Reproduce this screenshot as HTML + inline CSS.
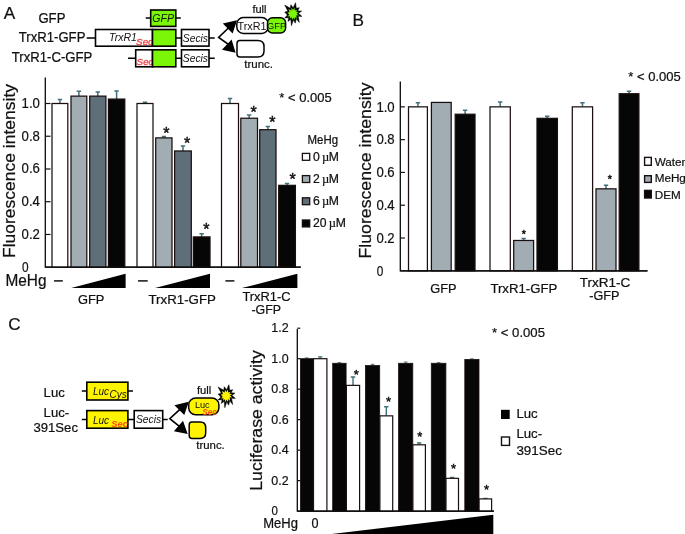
<!DOCTYPE html>
<html><head><meta charset="utf-8"><title>Figure</title>
<style>
html,body{margin:0;padding:0;background:#fff;}
body{width:685px;height:534px;overflow:hidden;}
svg{display:block;}
svg text{font-family:"Liberation Sans",sans-serif;}
svg text:not([stroke]){stroke:#111;stroke-width:0.22px;}
</style></head><body>
<svg width="685" height="534" viewBox="0 0 685 534">
<rect width="685" height="534" fill="#fff"/>
<text x="3.80" y="19.30" font-size="17.2" text-anchor="start"  fill="#111">A</text>
<text x="0.00" y="0.00" font-size="13.1" text-anchor="start" textLength="27.0" lengthAdjust="spacingAndGlyphs"  transform="translate(38.40 22.60) scale(1 1.07)" fill="#111">GFP</text>
<text x="0.00" y="0.00" font-size="13.1" text-anchor="start" textLength="66.6" lengthAdjust="spacingAndGlyphs"  transform="translate(18.80 42.30) scale(1 1.08)" fill="#111">TrxR1-GFP</text>
<text x="0.00" y="0.00" font-size="13.1" text-anchor="start" textLength="80.6" lengthAdjust="spacingAndGlyphs"  transform="translate(11.80 62.00) scale(1 1.08)" fill="#111">TrxR1-C-GFP</text>
<path d="M145.7 18H150.7M175.8 18H180.8M86.7 38H95.5M209 38H214.7M128 58.3H135.7M175.8 58.3H181.5M209 58.3H214.7M175.8 38H181.5" stroke="#000" stroke-width="1.5" fill="none"/>
<rect x="150.7" y="10" width="25.1" height="16.4" fill="#7cf608" stroke="#000" stroke-width="1.6"/>
<text x="163.20" y="22.20" font-size="10.6" text-anchor="middle" font-style="italic" stroke="none" fill="#111">GFP</text>
<rect x="95.5" y="29.5" width="57" height="16.7" fill="#fff" stroke="#000" stroke-width="1.6"/>
<text x="109.00" y="41.00" font-size="10.5" text-anchor="start" font-style="italic" stroke="none" fill="#111">TrxR1</text>
<text x="136.10" y="45.00" font-size="9.8" text-anchor="start" font-style="italic" fill="#f0454a" stroke="#f0454a" stroke-width="0.35">Sec</text>
<rect x="152.5" y="29.5" width="23.3" height="16.7" fill="#7cf608" stroke="#000" stroke-width="1.6"/>
<rect x="181.5" y="29.5" width="27.5" height="16.6" fill="#fff" stroke="#000" stroke-width="1.6"/>
<text x="195.40" y="41.80" font-size="10.3" text-anchor="middle" font-style="italic" stroke="none" fill="#111">Secis</text>
<rect x="135.7" y="49.8" width="16.8" height="17" fill="#fff" stroke="#000" stroke-width="1.6"/>
<text x="136.60" y="64.70" font-size="9.8" text-anchor="start" font-style="italic" fill="#f0454a" stroke="#f0454a" stroke-width="0.35">Sec</text>
<rect x="152.5" y="49.8" width="23.3" height="17" fill="#7cf608" stroke="#000" stroke-width="1.6"/>
<rect x="181.5" y="49.8" width="27.5" height="17" fill="#fff" stroke="#000" stroke-width="1.6"/>
<text x="195.40" y="62.30" font-size="10.3" text-anchor="middle" font-style="italic" stroke="none" fill="#111">Secis</text>
<path d="M230 26.5L218.6 37.3L230 45.5" stroke="#000" stroke-width="1.6" fill="none"/>
<path d="M222.8 23.5L237 20.3L232.6 33.6Z M221.9 49.7L231.6 39.6L235.6 52.8Z" fill="#000"/>
<rect x="236.8" y="17.6" width="31.5" height="15.8" rx="6.5" fill="#fff" stroke="#000" stroke-width="1.5"/>
<rect x="267.5" y="17.8" width="18.1" height="15.2" rx="5" fill="#7cf608" stroke="#000" stroke-width="1.5"/>
<text x="252.00" y="29.80" font-size="10.8" text-anchor="middle" stroke="none" fill="#111">TrxR1</text>
<text x="276.60" y="29.30" font-size="9.3" text-anchor="middle" stroke="none" fill="#111">GFP</text>
<text x="252.40" y="13.00" font-size="11" text-anchor="start"  fill="#111">full</text>
<path d="M239.8 40.6H257.8Q264 40.6 264 46.6V50.9Q264 56.9 257.8 56.9H239.8Q237 56.9 237 53.9V43.6Q237 40.6 239.8 40.6Z" fill="#fff" stroke="#000" stroke-width="1.5"/>
<text x="244.30" y="67.80" font-size="11.5" text-anchor="start"  fill="#111">trunc.</text>
<polygon points="295.53,2.71 296.32,8.28 299.32,7.67 297.63,10.65 301.66,11.17 298.42,13.27 301.95,16.43 298.16,16.16 299.32,22.56 296.32,18.79 295.24,23.14 293.43,19.84 291.44,25.77 290.80,19.32 287.94,21.39 288.70,17.74 284.72,17.89 287.38,15.11 284.72,12.05 287.91,11.17 284.72,5.04 290.27,8.28 290.86,4.75 293.16,7.76" fill="#000" stroke="#000" stroke-width="0.5" stroke-linejoin="round"/>
<polygon points="294.41,7.44 294.87,10.62 297.14,9.75 296.01,11.73 298.68,12.07 296.58,13.45 298.87,15.53 296.31,15.33 296.77,19.07 295.01,16.88 294.44,19.97 293.22,17.52 292.11,20.29 291.57,17.29 289.62,18.81 290.17,16.36 287.50,16.50 289.26,14.67 287.50,12.64 289.59,12.06 288.44,9.02 291.29,10.43 291.55,7.83 293.06,10.07" fill="#7cf608"/>
<path d="M45.3 77.5V267.2H300.8" stroke="#0a0a0a" stroke-width="1.3" fill="none"/>
<path d="M45.3 103.50H50.5" stroke="#111" stroke-width="1.2"/>
<text x="21.60" y="107.90" font-size="14.4" text-anchor="start" textLength="18.3" lengthAdjust="spacingAndGlyphs"  fill="#111">1.0</text>
<path d="M45.3 136.24H50.5" stroke="#111" stroke-width="1.2"/>
<text x="21.60" y="140.64" font-size="14.4" text-anchor="start" textLength="18.3" lengthAdjust="spacingAndGlyphs"  fill="#111">0.8</text>
<path d="M45.3 168.98H50.5" stroke="#111" stroke-width="1.2"/>
<text x="21.60" y="173.38" font-size="14.4" text-anchor="start" textLength="18.3" lengthAdjust="spacingAndGlyphs"  fill="#111">0.6</text>
<path d="M45.3 201.72H50.5" stroke="#111" stroke-width="1.2"/>
<text x="21.60" y="206.12" font-size="14.4" text-anchor="start" textLength="18.3" lengthAdjust="spacingAndGlyphs"  fill="#111">0.4</text>
<path d="M45.3 234.46H50.5" stroke="#111" stroke-width="1.2"/>
<text x="21.60" y="238.86" font-size="14.4" text-anchor="start" textLength="18.3" lengthAdjust="spacingAndGlyphs"  fill="#111">0.2</text>
<text x="21.90" y="271.60" font-size="14.4" text-anchor="start" textLength="6.6" lengthAdjust="spacingAndGlyphs"  fill="#111">0</text>
<text fill="#111" transform="translate(14.9 171) rotate(-90)" font-size="16.2" text-anchor="middle" textLength="174" lengthAdjust="spacingAndGlyphs">Fluorescence intensity</text>
<path d="M59.90 103.50V99.41M57.70 99.41H62.10" stroke="#44707a" stroke-width="1.5" fill="none"/>
<rect x="52.00" y="103.50" width="15.80" height="163.70" fill="#ffffff" stroke="#1a0f0f" stroke-width="1.25"/>
<path d="M78.90 96.13V91.22M76.70 91.22H81.10" stroke="#44707a" stroke-width="1.5" fill="none"/>
<rect x="71.00" y="96.13" width="15.80" height="171.07" fill="#a1adb3" stroke="#1a0f0f" stroke-width="1.25"/>
<path d="M97.80 96.13V92.04M95.60 92.04H100.00" stroke="#44707a" stroke-width="1.5" fill="none"/>
<rect x="89.70" y="96.13" width="16.20" height="171.07" fill="#5f6f7a" stroke="#1a0f0f" stroke-width="1.25"/>
<path d="M116.60 99.08V90.90M114.40 90.90H118.80" stroke="#44707a" stroke-width="1.5" fill="none"/>
<rect x="108.40" y="99.08" width="16.40" height="168.12" fill="#060606" stroke="#1a0f0f" stroke-width="1.25"/>
<path d="M145.00 103.50V102.19M142.80 102.19H147.20" stroke="#44707a" stroke-width="1.5" fill="none"/>
<rect x="137.00" y="103.50" width="16.00" height="163.70" fill="#ffffff" stroke="#1a0f0f" stroke-width="1.25"/>
<path d="M163.85 137.88V136.57M161.65 136.57H166.05" stroke="#44707a" stroke-width="1.5" fill="none"/>
<rect x="155.70" y="137.88" width="16.30" height="129.32" fill="#a1adb3" stroke="#1a0f0f" stroke-width="1.25"/>
<path d="M182.95 150.97V146.06M180.75 146.06H185.15" stroke="#44707a" stroke-width="1.5" fill="none"/>
<rect x="174.60" y="150.97" width="16.70" height="116.23" fill="#5f6f7a" stroke="#1a0f0f" stroke-width="1.25"/>
<path d="M201.65 236.92V233.64M199.45 233.64H203.85" stroke="#44707a" stroke-width="1.5" fill="none"/>
<rect x="193.30" y="236.92" width="16.70" height="30.28" fill="#060606" stroke="#1a0f0f" stroke-width="1.25"/>
<path d="M230.00 103.50V98.59M227.80 98.59H232.20" stroke="#44707a" stroke-width="1.5" fill="none"/>
<rect x="221.50" y="103.50" width="17.00" height="163.70" fill="#ffffff" stroke="#1a0f0f" stroke-width="1.25"/>
<path d="M249.15 118.23V114.96M246.95 114.96H251.35" stroke="#44707a" stroke-width="1.5" fill="none"/>
<rect x="240.80" y="118.23" width="16.70" height="148.97" fill="#a1adb3" stroke="#1a0f0f" stroke-width="1.25"/>
<path d="M267.85 129.69V126.42M265.65 126.42H270.05" stroke="#44707a" stroke-width="1.5" fill="none"/>
<rect x="259.70" y="129.69" width="16.30" height="137.51" fill="#5f6f7a" stroke="#1a0f0f" stroke-width="1.25"/>
<path d="M287.05 185.35V183.39M284.85 183.39H289.25" stroke="#44707a" stroke-width="1.5" fill="none"/>
<rect x="278.70" y="185.35" width="16.70" height="81.85" fill="#060606" stroke="#1a0f0f" stroke-width="1.25"/>
<path d="M45.3 267.2H300.8" stroke="#0a0a0a" stroke-width="1.3" fill="none"/>
<text x="166.30" y="139.30" font-size="16" text-anchor="middle" stroke="#111" stroke-width="0.45" fill="#111">*</text>
<text x="187.20" y="148.50" font-size="16" text-anchor="middle" stroke="#111" stroke-width="0.45" fill="#111">*</text>
<text x="206.40" y="234.80" font-size="16" text-anchor="middle" stroke="#111" stroke-width="0.45" fill="#111">*</text>
<text x="253.60" y="117.70" font-size="16" text-anchor="middle" stroke="#111" stroke-width="0.45" fill="#111">*</text>
<text x="272.30" y="127.80" font-size="16" text-anchor="middle" stroke="#111" stroke-width="0.45" fill="#111">*</text>
<text x="292.50" y="185.10" font-size="16" text-anchor="middle" stroke="#111" stroke-width="0.45" fill="#111">*</text>
<text x="279.30" y="102.30" font-size="12.6" text-anchor="start" textLength="52.4" lengthAdjust="spacingAndGlyphs"  fill="#111">* &lt; 0.005</text>
<text x="307.60" y="143.60" font-size="12.4" text-anchor="start" textLength="30.5" lengthAdjust="spacingAndGlyphs"  fill="#111">MeHg</text>
<rect x="302.4" y="153.40" width="7.3" height="6.9" fill="#ffffff" stroke="#1a0f0f" stroke-width="1.3"/>
<text fill="#111" x="313.1" y="160.50" font-size="12.2">0<tspan dx="2.0" font-family="'Liberation Serif', serif" font-size="12.6">µ</tspan><tspan dx="-0.3">M</tspan></text>
<rect x="302.4" y="175.60" width="7.3" height="6.9" fill="#a1adb3" stroke="#1a0f0f" stroke-width="1.3"/>
<text fill="#111" x="313.1" y="182.70" font-size="12.2">2<tspan dx="2.0" font-family="'Liberation Serif', serif" font-size="12.6">µ</tspan><tspan dx="-0.3">M</tspan></text>
<rect x="302.4" y="197.80" width="7.3" height="6.9" fill="#5f6f7a" stroke="#1a0f0f" stroke-width="1.3"/>
<text fill="#111" x="313.1" y="204.90" font-size="12.2">6<tspan dx="2.0" font-family="'Liberation Serif', serif" font-size="12.6">µ</tspan><tspan dx="-0.3">M</tspan></text>
<rect x="302.4" y="220.00" width="7.3" height="6.9" fill="#060606" stroke="#1a0f0f" stroke-width="1.3"/>
<text fill="#111" x="313.1" y="227.10" font-size="12.2">20<tspan dx="2.0" font-family="'Liberation Serif', serif" font-size="12.6">µ</tspan><tspan dx="-0.3">M</tspan></text>
<text x="0.00" y="0.00" font-size="15" text-anchor="start" textLength="41.0" lengthAdjust="spacingAndGlyphs"  transform="translate(5.50 285.70) scale(1 1.12)" fill="#111">MeHg</text>
<path d="M54 280.9H62.8" stroke="#111" stroke-width="1.5"/>
<path d="M138 280.9H147.7" stroke="#111" stroke-width="1.5"/>
<path d="M225.4 280.9H234.4" stroke="#111" stroke-width="1.5"/>
<path d="M71.2 288.1H125.6V273.7Z" fill="#000"/>
<path d="M155 288.1H210V273.7Z" fill="#000"/>
<path d="M241.8 288.1H297.4V273.7Z" fill="#000"/>
<text x="0.00" y="0.00" font-size="12.8" text-anchor="middle" textLength="26.4" lengthAdjust="spacingAndGlyphs"  transform="translate(91.10 303.90) scale(1 1.05)" fill="#111">GFP</text>
<text x="182.20" y="304.00" font-size="12.8" text-anchor="middle" textLength="67.5" lengthAdjust="spacingAndGlyphs"  fill="#111">TrxR1-GFP</text>
<text x="266.50" y="300.80" font-size="12.8" text-anchor="middle" textLength="48.2" lengthAdjust="spacingAndGlyphs"  fill="#111">TrxR1-C</text>
<text x="266.20" y="313.60" font-size="12.8" text-anchor="middle" textLength="29.6" lengthAdjust="spacingAndGlyphs"  fill="#111">-GFP</text>
<text x="352.60" y="25.50" font-size="17.2" text-anchor="start"  fill="#111">B</text>
<text x="628.30" y="80.90" font-size="12.6" text-anchor="start" textLength="52.5" lengthAdjust="spacingAndGlyphs"  fill="#111">* &lt; 0.005</text>
<path d="M400.3 81.5V270.8H647.5" stroke="#0a0a0a" stroke-width="1.3" fill="none"/>
<path d="M400.3 106.85H404.90000000000003" stroke="#111" stroke-width="1.2"/>
<text x="376.40" y="111.65" font-size="14.4" text-anchor="start" textLength="18.3" lengthAdjust="spacingAndGlyphs"  fill="#111">1.0</text>
<path d="M400.3 139.64H404.90000000000003" stroke="#111" stroke-width="1.2"/>
<text x="376.40" y="144.44" font-size="14.4" text-anchor="start" textLength="18.3" lengthAdjust="spacingAndGlyphs"  fill="#111">0.8</text>
<path d="M400.3 172.43H404.90000000000003" stroke="#111" stroke-width="1.2"/>
<text x="376.40" y="177.23" font-size="14.4" text-anchor="start" textLength="18.3" lengthAdjust="spacingAndGlyphs"  fill="#111">0.6</text>
<path d="M400.3 205.22H404.90000000000003" stroke="#111" stroke-width="1.2"/>
<text x="376.40" y="210.02" font-size="14.4" text-anchor="start" textLength="18.3" lengthAdjust="spacingAndGlyphs"  fill="#111">0.4</text>
<path d="M400.3 238.01H404.90000000000003" stroke="#111" stroke-width="1.2"/>
<text x="376.40" y="242.81" font-size="14.4" text-anchor="start" textLength="18.3" lengthAdjust="spacingAndGlyphs"  fill="#111">0.2</text>
<text x="376.70" y="275.60" font-size="14.4" text-anchor="start" textLength="6.6" lengthAdjust="spacingAndGlyphs"  fill="#111">0</text>
<text fill="#111" transform="translate(371.3 170.5) rotate(-90)" font-size="16.2" text-anchor="middle" textLength="176" lengthAdjust="spacingAndGlyphs">Fluorescence intensity</text>
<path d="M417.95 106.85V102.75M415.75 102.75H420.15" stroke="#44707a" stroke-width="1.5" fill="none"/>
<rect x="408.50" y="106.85" width="18.90" height="163.95" fill="#ffffff" stroke="#1a0f0f" stroke-width="1.25"/>
<rect x="431.40" y="102.42" width="19.80" height="168.38" fill="#a1adb3" stroke="#1a0f0f" stroke-width="1.25"/>
<path d="M465.10 114.23V110.13M462.90 110.13H467.30" stroke="#44707a" stroke-width="1.5" fill="none"/>
<rect x="455.20" y="114.23" width="19.80" height="156.57" fill="#060606" stroke="#1a0f0f" stroke-width="1.25"/>
<path d="M500.15 106.85V101.93M497.95 101.93H502.35" stroke="#44707a" stroke-width="1.5" fill="none"/>
<rect x="490.00" y="106.85" width="20.30" height="163.95" fill="#ffffff" stroke="#1a0f0f" stroke-width="1.25"/>
<path d="M523.65 240.47V238.50M521.45 238.50H525.85" stroke="#44707a" stroke-width="1.5" fill="none"/>
<rect x="513.70" y="240.47" width="19.90" height="30.33" fill="#a1adb3" stroke="#1a0f0f" stroke-width="1.25"/>
<path d="M547.20 118.33V116.36M545.00 116.36H549.40" stroke="#44707a" stroke-width="1.5" fill="none"/>
<rect x="537.00" y="118.33" width="20.40" height="152.47" fill="#060606" stroke="#1a0f0f" stroke-width="1.25"/>
<path d="M582.45 106.85V102.75M580.25 102.75H584.65" stroke="#44707a" stroke-width="1.5" fill="none"/>
<rect x="572.30" y="106.85" width="20.30" height="163.95" fill="#ffffff" stroke="#1a0f0f" stroke-width="1.25"/>
<path d="M606.00 188.83V185.22M603.80 185.22H608.20" stroke="#44707a" stroke-width="1.5" fill="none"/>
<rect x="596.00" y="188.83" width="20.00" height="81.97" fill="#a1adb3" stroke="#1a0f0f" stroke-width="1.25"/>
<path d="M629.05 93.73V91.27M626.85 91.27H631.25" stroke="#44707a" stroke-width="1.5" fill="none"/>
<rect x="619.20" y="93.73" width="19.70" height="177.07" fill="#060606" stroke="#1a0f0f" stroke-width="1.25"/>
<path d="M400.3 270.8H647.5" stroke="#0a0a0a" stroke-width="1.3" fill="none"/>
<text x="523.90" y="238.40" font-size="10.6" text-anchor="middle" stroke="#111" stroke-width="0.45" fill="#111">*</text>
<text x="609.70" y="183.10" font-size="10.6" text-anchor="middle" stroke="#111" stroke-width="0.45" fill="#111">*</text>
<rect x="644.6" y="157.40" width="6.7" height="7.90" fill="#ffffff" stroke="#1a0f0f" stroke-width="1.4"/>
<text x="654.70" y="166.00" font-size="11.7" text-anchor="start"  fill="#111">Water</text>
<rect x="644.6" y="175.70" width="6.7" height="6.70" fill="#a1adb3" stroke="#1a0f0f" stroke-width="1.4"/>
<text x="654.70" y="182.40" font-size="11.7" text-anchor="start"  fill="#111">MeHg</text>
<rect x="644.6" y="190.40" width="6.7" height="7.60" fill="#060606" stroke="#1a0f0f" stroke-width="1.4"/>
<text x="654.70" y="198.50" font-size="11.7" text-anchor="start"  fill="#111">DEM</text>
<text x="443.50" y="292.60" font-size="12.8" text-anchor="middle" textLength="26.3" lengthAdjust="spacingAndGlyphs"  fill="#111">GFP</text>
<text x="523.90" y="292.60" font-size="12.8" text-anchor="middle" textLength="67.0" lengthAdjust="spacingAndGlyphs"  fill="#111">TrxR1-GFP</text>
<text x="605.00" y="286.60" font-size="12.8" text-anchor="middle" textLength="50.6" lengthAdjust="spacingAndGlyphs"  fill="#111">TrxR1-C</text>
<text x="604.30" y="300.00" font-size="12.8" text-anchor="middle" textLength="30.2" lengthAdjust="spacingAndGlyphs"  fill="#111">-GFP</text>
<text x="8.20" y="330.20" font-size="17.2" text-anchor="start"  fill="#111">C</text>
<text x="43.60" y="396.90" font-size="13.1" text-anchor="start"  fill="#111">Luc</text>
<text x="43.60" y="417.20" font-size="13.1" text-anchor="start"  fill="#111">Luc-</text>
<text x="33.40" y="431.80" font-size="13.1" text-anchor="start" textLength="44.6" lengthAdjust="spacingAndGlyphs"  fill="#111">391Sec</text>
<path d="M81.8 391H86.8M127.9 391H133M81.8 419.4H86.8M127.9 419.4H134.2M162.7 419.4H167.7" stroke="#000" stroke-width="1.5" fill="none"/>
<rect x="86.8" y="382.2" width="41.1" height="17.8" fill="#fff400" stroke="#000" stroke-width="1.6"/>
<text x="92.90" y="394.80" font-size="10" text-anchor="start" font-style="italic" stroke="none" fill="#111">Luc</text>
<text x="109.60" y="398.00" font-size="10" text-anchor="start" font-style="italic" stroke="none" fill="#111">Cys</text>
<rect x="86.8" y="410.6" width="41.1" height="17.6" fill="#fff400" stroke="#000" stroke-width="1.6"/>
<text x="92.90" y="423.50" font-size="10" text-anchor="start" font-style="italic" stroke="none" fill="#111">Luc</text>
<text x="111.30" y="427.20" font-size="9.6" text-anchor="start" textLength="16.6" lengthAdjust="spacingAndGlyphs" font-style="italic" font-weight="bold" fill="#ff4a10" stroke="none">Sec</text>
<rect x="134.2" y="410.6" width="28.5" height="17.6" fill="#fff" stroke="#000" stroke-width="1.6"/>
<text x="148.50" y="423.00" font-size="10.3" text-anchor="middle" font-style="italic" stroke="none" fill="#111">Secis</text>
<path d="M181 408.4L169.8 418.6L180 426.8" stroke="#000" stroke-width="1.6" fill="none"/>
<path d="M174.4 405.2L188.8 401.8L184.3 415Z M173.9 431.2L183 420.8L187.7 434Z" fill="#000"/>
<rect x="188.7" y="398" width="30.2" height="16.8" rx="7" fill="#fff400" stroke="#000" stroke-width="1.5"/>
<text x="202.30" y="407.80" font-size="9.2" text-anchor="middle" stroke="none" fill="#111">Luc</text>
<text x="209.60" y="414.90" font-size="8.2" text-anchor="middle" font-style="italic" font-weight="bold" fill="#ff4a10" stroke="none">Sec</text>
<path d="M191.7 421.9H200.2Q205.7 421.9 205.7 427.6V432.8Q205.7 438.4 200.2 438.4H191.7Q189.2 438.4 189.2 435.6V424.7Q189.2 421.9 191.7 421.9Z" fill="#fff400" stroke="#000" stroke-width="1.5"/>
<text x="197.00" y="394.20" font-size="11.2" text-anchor="start"  fill="#111">full</text>
<text x="196.30" y="448.80" font-size="11.4" text-anchor="start"  fill="#111">trunc.</text>
<polygon points="228.93,384.71 229.72,390.28 232.72,389.67 231.03,392.65 235.06,393.17 231.82,395.27 235.35,398.43 231.56,398.16 232.72,404.56 229.72,400.79 228.64,405.14 226.83,401.84 224.84,407.77 224.20,401.32 221.34,403.39 222.10,399.74 218.12,399.89 220.78,397.11 218.12,394.05 221.31,393.17 218.12,387.04 223.67,390.28 224.26,386.75 226.56,389.76" fill="#000" stroke="#000" stroke-width="0.5" stroke-linejoin="round"/>
<polygon points="227.81,389.44 228.27,392.62 230.54,391.75 229.41,393.73 232.08,394.07 229.98,395.45 232.27,397.53 229.71,397.33 230.17,401.07 228.41,398.88 227.84,401.97 226.62,399.52 225.51,402.29 224.97,399.29 223.02,400.81 223.57,398.36 220.90,398.50 222.66,396.67 220.90,394.64 222.99,394.06 221.84,391.02 224.69,392.43 224.95,389.83 226.46,392.07" fill="#fff400"/>
<path d="M297.3 328.9V511.1H494" stroke="#0a0a0a" stroke-width="1.3" fill="none"/>
<path d="M297.3 328.22H300.3" stroke="#111" stroke-width="1.2"/>
<text x="271.30" y="331.82" font-size="13.7" text-anchor="start" textLength="17.3" lengthAdjust="spacingAndGlyphs"  fill="#111">1.2</text>
<path d="M297.3 358.70H300.3" stroke="#111" stroke-width="1.2"/>
<text x="271.30" y="362.90" font-size="13.7" text-anchor="start" textLength="17.3" lengthAdjust="spacingAndGlyphs"  fill="#111">1.0</text>
<path d="M297.3 389.18H300.3" stroke="#111" stroke-width="1.2"/>
<text x="271.30" y="393.38" font-size="13.7" text-anchor="start" textLength="17.3" lengthAdjust="spacingAndGlyphs"  fill="#111">0.8</text>
<path d="M297.3 419.66H300.3" stroke="#111" stroke-width="1.2"/>
<text x="271.30" y="423.86" font-size="13.7" text-anchor="start" textLength="17.3" lengthAdjust="spacingAndGlyphs"  fill="#111">0.6</text>
<path d="M297.3 450.14H300.3" stroke="#111" stroke-width="1.2"/>
<text x="271.30" y="454.34" font-size="13.7" text-anchor="start" textLength="17.3" lengthAdjust="spacingAndGlyphs"  fill="#111">0.4</text>
<path d="M297.3 480.62H300.3" stroke="#111" stroke-width="1.2"/>
<text x="271.30" y="484.82" font-size="13.7" text-anchor="start" textLength="17.3" lengthAdjust="spacingAndGlyphs"  fill="#111">0.2</text>
<text x="271.60" y="515.00" font-size="13.7" text-anchor="start" textLength="6.4" lengthAdjust="spacingAndGlyphs"  fill="#111">0</text>
<text fill="#111" transform="translate(262.4 420.5) rotate(-90)" font-size="15.6" text-anchor="middle" textLength="140.5" lengthAdjust="spacingAndGlyphs">Luciferase activity</text>
<path d="M306.70 358.70V357.94M304.90 357.94H308.50" stroke="#44707a" stroke-width="1" fill="none"/>
<rect x="300.40" y="358.70" width="12.60" height="152.40" fill="#060606" stroke="#1a0f0f" stroke-width="0.8"/>
<path d="M339.40 363.27V362.66M337.60 362.66H341.20" stroke="#44707a" stroke-width="1" fill="none"/>
<rect x="332.70" y="363.27" width="13.40" height="147.83" fill="#060606" stroke="#1a0f0f" stroke-width="0.8"/>
<path d="M372.55 365.56V364.34M370.75 364.34H374.35" stroke="#44707a" stroke-width="1" fill="none"/>
<rect x="365.40" y="365.56" width="14.30" height="145.54" fill="#060606" stroke="#1a0f0f" stroke-width="0.8"/>
<path d="M405.70 363.27V362.05M403.90 362.05H407.50" stroke="#44707a" stroke-width="1" fill="none"/>
<rect x="398.60" y="363.27" width="14.20" height="147.83" fill="#060606" stroke="#1a0f0f" stroke-width="0.8"/>
<path d="M438.60 363.27V362.66M436.80 362.66H440.40" stroke="#44707a" stroke-width="1" fill="none"/>
<rect x="431.30" y="363.27" width="14.60" height="147.83" fill="#060606" stroke="#1a0f0f" stroke-width="0.8"/>
<path d="M471.90 359.46V358.85M470.10 358.85H473.70" stroke="#44707a" stroke-width="1" fill="none"/>
<rect x="464.80" y="359.46" width="14.20" height="151.64" fill="#060606" stroke="#1a0f0f" stroke-width="0.8"/>
<path d="M320.20 358.70V356.87M318.00 356.87H322.40" stroke="#44707a" stroke-width="1.4" fill="none"/>
<rect x="313.50" y="358.70" width="13.40" height="152.40" fill="#ffffff" stroke="#1a0f0f" stroke-width="1.2"/>
<path d="M353.00 385.37V376.99M350.80 376.99H355.20" stroke="#44707a" stroke-width="1.4" fill="none"/>
<rect x="346.40" y="385.37" width="13.20" height="125.73" fill="#ffffff" stroke="#1a0f0f" stroke-width="1.2"/>
<path d="M386.30 415.85V406.71M384.10 406.71H388.50" stroke="#44707a" stroke-width="1.4" fill="none"/>
<rect x="379.90" y="415.85" width="12.80" height="95.25" fill="#ffffff" stroke="#1a0f0f" stroke-width="1.2"/>
<path d="M419.15 444.81V442.98M416.95 442.98H421.35" stroke="#44707a" stroke-width="1.4" fill="none"/>
<rect x="412.90" y="444.81" width="12.50" height="66.29" fill="#ffffff" stroke="#1a0f0f" stroke-width="1.2"/>
<path d="M452.25 478.33V477.42M450.05 477.42H454.45" stroke="#44707a" stroke-width="1.4" fill="none"/>
<rect x="446.00" y="478.33" width="12.50" height="32.77" fill="#ffffff" stroke="#1a0f0f" stroke-width="1.2"/>
<path d="M485.35 498.91V498.45M483.15 498.45H487.55" stroke="#44707a" stroke-width="1.4" fill="none"/>
<rect x="479.10" y="498.91" width="12.50" height="12.19" fill="#ffffff" stroke="#1a0f0f" stroke-width="1.2"/>
<path d="M297.3 511.1H494" stroke="#0a0a0a" stroke-width="1.3" fill="none"/>
<text x="356.20" y="379.30" font-size="13" text-anchor="middle" stroke="#111" stroke-width="0.45" fill="#111">*</text>
<text x="388.50" y="405.70" font-size="13" text-anchor="middle" stroke="#111" stroke-width="0.45" fill="#111">*</text>
<text x="419.90" y="440.90" font-size="13" text-anchor="middle" stroke="#111" stroke-width="0.45" fill="#111">*</text>
<text x="453.50" y="472.80" font-size="13" text-anchor="middle" stroke="#111" stroke-width="0.45" fill="#111">*</text>
<text x="486.60" y="493.80" font-size="13" text-anchor="middle" stroke="#111" stroke-width="0.45" fill="#111">*</text>
<text x="492.00" y="336.60" font-size="12.6" text-anchor="start" textLength="53.0" lengthAdjust="spacingAndGlyphs"  fill="#111">* &lt; 0.005</text>
<rect x="501" y="409.8" width="8.7" height="9.2" fill="#000"/>
<text x="516.40" y="418.30" font-size="13.2" text-anchor="start"  fill="#111">Luc</text>
<rect x="501.5" y="437" width="8" height="8.4" fill="#fff" stroke="#111" stroke-width="1.4"/>
<text x="516.40" y="438.20" font-size="13.2" text-anchor="start"  fill="#111">Luc-</text>
<text x="516.40" y="454.80" font-size="13.2" text-anchor="start" textLength="45.5" lengthAdjust="spacingAndGlyphs"  fill="#111">391Sec</text>
<text x="0.00" y="0.00" font-size="12.6" text-anchor="start" textLength="34.7" lengthAdjust="spacingAndGlyphs"  transform="translate(263.20 527.80) scale(1 1.1)" fill="#111">MeHg</text>
<text x="0.00" y="0.00" font-size="12.6" text-anchor="middle"  transform="translate(314.90 527.80) scale(1 1.1)" fill="#111">0</text>
<path d="M321 535.3L493.3 514.7V535.3Z" fill="#000"/>
</svg>
</body></html>
